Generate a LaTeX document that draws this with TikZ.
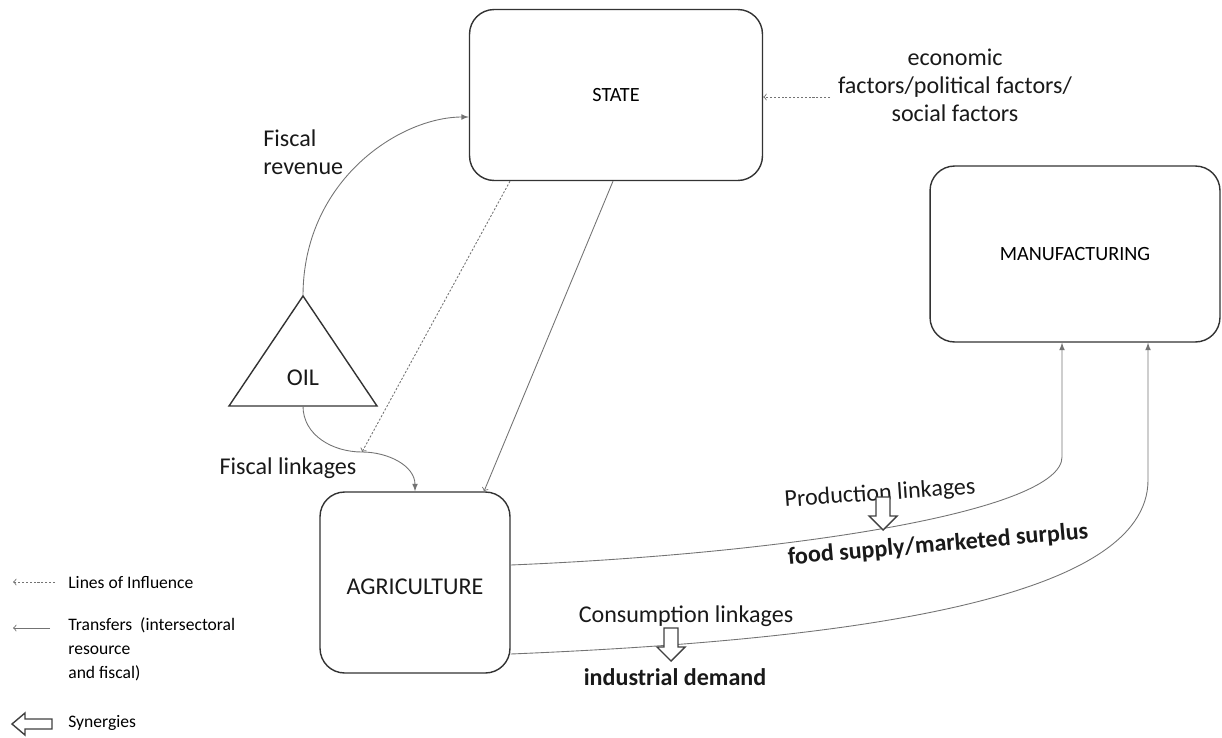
\documentclass[tikz,border=0pt]{standalone}
\usepackage{fontspec}
\setmainfont{Carlito}
\usetikzlibrary{arrows}
\newcommand{\mainsize}{\fontsize{13.7}{16}\selectfont}
\newcommand{\smallsize}{\fontsize{10}{13.6}\selectfont}

\begin{document}
\begin{tikzpicture}[x=0.02cm,y=-0.02cm,
    sector/.style={draw=black!80,line width=0.8pt,rounded corners=14pt,align=center},
    link/.style={draw=black!55,line width=0.5pt},
    influence/.style={link,densely dashed,dash pattern=on 1.2pt off 1pt},
    lbl/.style={font=\mainsize,text=black!90},
    synergy/.pic={\draw[line width=0.8pt,draw=black!75,fill=white]
      (-7,0) -- (7,0) -- (7,19) -- (14,19) -- (0,33) -- (-14,19) -- (-7,19) -- cycle;}]
    \useasboundingbox (0,0) rectangle (1222,737);

    \draw node at (616,95)[name=state,sector,minimum width=5.86cm,minimum height=3.42cm,font=\fontsize{11.5}{14}\selectfont]{STATE};
    \draw node at (1075,254)[name=manuf,sector,minimum width=5.8cm,minimum height=3.52cm,font=\fontsize{11.5}{14}\selectfont]{MANUFACTURING};
    \draw node at (415,582.5)[name=agri,sector,minimum width=3.8cm,minimum height=3.62cm]{};
    \draw node at (415,587)[name=agrilbl,lbl]{AGRICULTURE};

    % oil triangle
    \draw[black!80,line width=0.8pt] (229,406) -- (303,296) -- (377,406) -- cycle;
    \coordinate (oiltop) at (303,296);
    \coordinate (oilbase) at (303,406);
    \draw node at (303,378)[name=oil,lbl]{OIL};

    \draw node at (955,85)[name=econ,lbl,align=center]{economic\\factors/political factors/\\social factors};
    \draw node at (263,152)[name=fisrev,lbl,align=left,anchor=west,inner sep=0pt]{Fiscal\\revenue};
    \draw node at (288,468)[name=fislink,lbl]{Fiscal linkages};

    \coordinate (fl) at (362,452);
    \draw[link,-latex](oiltop) .. controls (303,180) and (400,117) .. (state.west |- 0,117);
    \draw[link](oilbase) to[out=-90,in=180] (fl);
    \draw[link,-latex](fl) to[out=0,in=90] (agri.north -| 415,0);
    \draw[influence,->](state.south -| 510,0) -- (fl);
    \draw[link,->](state.south -| 613,0) -- (agri.north -| 484,0);
    \draw[influence,->](830,97) -- (state.east |- 0,97);

    % linkages to manufacturing
    \draw[link,-latex](agri.east |- 0,565) .. controls (800,553) and (1062,510) .. (1062,457) -- (manuf.south -| 1062,0);
    \draw[link,-latex](agri.east |- 0,654) .. controls (850,640) and (1148,600) .. (1148,480) -- (manuf.south -| 1148,0);

    \draw node at (880,494)[name=prodlink,lbl,rotate=4]{Production linkages};
    \pic at (883,497) {synergy};
    \draw node at (938,545)[name=food,lbl,rotate=5,font=\mainsize\bfseries]{food supply/marketed surplus};
    \draw node at (686,616)[name=conslink,lbl]{Consumption linkages};
    \pic at (671,628) {synergy};
    \draw node at (675,677)[name=inddem,lbl,font=\mainsize\bfseries]{industrial demand};

    % legend
    \draw[influence,->](55,582) -- (13,582);
    \draw node at (68,583)[name=leginf,anchor=west,inner sep=0pt,font=\smallsize]{Lines of Influence};
    \draw[link,->](50,628) -- (13,628);
    \draw node at (68,630)[name=legtr,anchor=north west,inner sep=0pt,yshift=7pt,align=left,font=\smallsize]{Transfers~~(intersectoral\\resource\\and fiscal)};
    \draw[line width=0.8pt,draw=black!75,fill=white] (52,719) -- (25,719) -- (25,713) -- (12,724) -- (25,735) -- (25,729) -- (52,729) -- cycle;
    \draw node at (68,723)[name=legsyn,anchor=west,inner sep=0pt,font=\smallsize]{Synergies};
\end{tikzpicture}
\end{document}
